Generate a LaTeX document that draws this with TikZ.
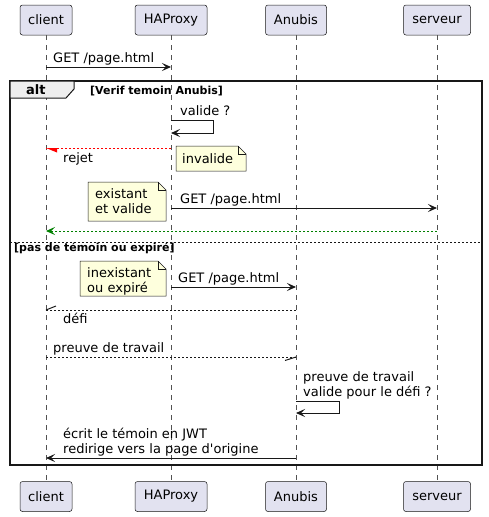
\documentclass[tikz,border=0pt]{standalone}
\usepackage{fontspec}
\setmainfont{DejaVu Sans}
\newfontfamily\dvsplain{DejaVu Sans}
\usetikzlibrary{arrows.meta}
\definecolor{partfill}{HTML}{E2E2F0}
\definecolor{ink}{HTML}{181818}
\definecolor{notefill}{HTML}{FEFFDD}
\definecolor{tabfill}{HTML}{EEEEEE}
\definecolor{okgreen}{HTML}{008000}
\definecolor{errred}{HTML}{FF0000}
\newcommand\mynotebox[4]{%
  \filldraw[fill=notefill,draw=ink,line width=0.5pt] (#1,#2) -- (#3-8,#2) -- (#3,#2+8) -- (#3,#4) -- (#1,#4) -- cycle;
  \draw[draw=ink,line width=0.5pt] (#3-8,#2) -- (#3-8,#2+8) -- (#3,#2+8);}
\begin{document}
\begin{tikzpicture}[x=1pt,y=-1pt,
  part/.style={draw=ink, fill=partfill, rounded corners=2.5pt, line width=0.5pt, minimum height=30pt, inner sep=0pt, font=\fontsize{13}{15}\selectfont},
  lbl/.style={anchor=base west, inner sep=0pt, font=\dvsplain\fontsize{13}{15}\selectfont},
  flbl/.style={anchor=base west, inner sep=0pt, font=\fontsize{11}{13}\selectfont\bfseries},
  life/.style={draw=ink!75, dash pattern=on 5pt off 5pt, line width=0.5pt},
  tip/.style={-{Stealth[length=9pt,width=8pt,inset=4pt]}},
  msg/.style={draw=ink, line width=1pt, tip},
  dmsg/.style={draw=ink, line width=1pt, dash pattern=on 2pt off 2pt},
]
\useasboundingbox (0,0) rectangle (488,517);

% participants
\node[part, minimum width=52pt] (cT) at (46,20) {client};
\node[part, minimum width=72pt] (hT) at (171,20) {HAProxy};
\node[part, minimum width=61pt] (aT) at (296,20) {Anubis};
\node[part, minimum width=67pt] (sT) at (437,20) {serveur};
\node[part, minimum width=52pt] (cB) at (46,496.5) {client};
\node[part, minimum width=72pt] (hB) at (171,496.5) {HAProxy};
\node[part, minimum width=61pt] (aB) at (296,496.5) {Anubis};
\node[part, minimum width=67pt] (sB) at (437,496.5) {serveur};

\draw[life] (cT.south) -- (cB.north);
\draw[life] (hT.south) -- (hB.north);
\draw[life] (aT.south) -- (aB.north);
\draw[life] (sT.south) -- (sB.north);

% message 1
\draw[msg] (cT |- 0,67) -- (hT |- 0,67);
\node[lbl] (m1) at (53,62.5) {GET /page.html};

% alt frame
\draw[line width=1.5pt, draw=ink] (10,81) rectangle (482,465);
\filldraw[fill=tabfill, draw=ink, line width=1pt] (10,81) -- (74,81) -- (74,89) -- (66,98) -- (10,98) -- cycle;
\node[anchor=base west, inner sep=0pt, font=\fontsize{13}{15}\selectfont\bfseries] (altl) at (26,94) {alt};
\node[flbl] (g1) at (90,94) {[Verif temoin Anubis]};

% self message valide ?
\coordinate (v1) at (213,120);
\coordinate (v2) at (213,133);
\draw[draw=ink, line width=1pt, tip] (hT |- 0,120) -- (v1) -- (v2) -- (hT |- 0,133);
\node[lbl] (vq) at (180,115.5) {valide ?};

% rejet
\draw[draw=errred, line width=1pt, dash pattern=on 2pt off 2pt] (hT |- 0,148) -- (cT |- 0,148);
\fill[errred] (cT |- 0,148) -- ++(11,0) -- ++(0,4.5) -- cycle;
\node[lbl] (rj) at (63,162) {rejet};
\mynotebox{176}{146}{246}{171}
\node[lbl] (n1) at (182,163) {invalide};

% GET to serveur
\draw[msg] (hT |- 0,208) -- (sT |- 0,208);
\node[lbl] (m2) at (180,203.5) {GET /page.html};
\mynotebox{88}{182}{166}{221}
\node[lbl] (n2a) at (95,198) {existant};
\node[lbl] (n2b) at (95,213) {et valide};

% green return
\draw[draw=okgreen, line width=1pt, dash pattern=on 2pt off 2pt, tip] (sT |- 0,231) -- (cT |- 0,231);

% separator
\draw[draw=ink, line width=1pt, dash pattern=on 2pt off 2pt] (10,242) -- (482,242);
\node[flbl] (g2) at (14,251) {[pas de témoin ou expiré]};

% GET to Anubis
\draw[msg] (hT |- 0,287) -- (aT |- 0,287);
\node[lbl] (m3) at (178,282.5) {GET /page.html};
\mynotebox{80}{261}{166}{296}
\node[lbl] (n3a) at (87,277.5) {inexistant};
\node[lbl] (n3b) at (87,292) {ou expiré};

% défi
\draw[dmsg] (aT |- 0,310) -- (cT |- 0,310);
\draw[draw=ink, line width=1pt] (cT |- 0,310) -- ++(10,-4);
\node[lbl] (df) at (63,323.5) {défi};

% preuve de travail
\draw[dmsg] (cT |- 0,357) -- (aT |- 0,357);
\draw[draw=ink, line width=1pt] (aT |- 0,357) -- ++(-11,3.5);
\node[lbl] (pt) at (53,352) {preuve de travail};

% self message on Anubis
\coordinate (w1) at (339,401);
\coordinate (w2) at (339,413);
\draw[draw=ink, line width=1pt, tip] (aT |- 0,401) -- (w1) -- (w2) -- (aT |- 0,413);
\node[lbl] (s1) at (303,381) {preuve de travail};
\node[lbl] (s2) at (303,396) {valide pour le défi ?};

% final message
\draw[msg] (aT |- 0,458) -- (cT |- 0,458);
\node[lbl] (f1) at (63,438) {écrit le témoin en JWT};
\node[lbl] (f2) at (63,453.5) {redirige vers la page d'origine};
\end{tikzpicture}
\end{document}
